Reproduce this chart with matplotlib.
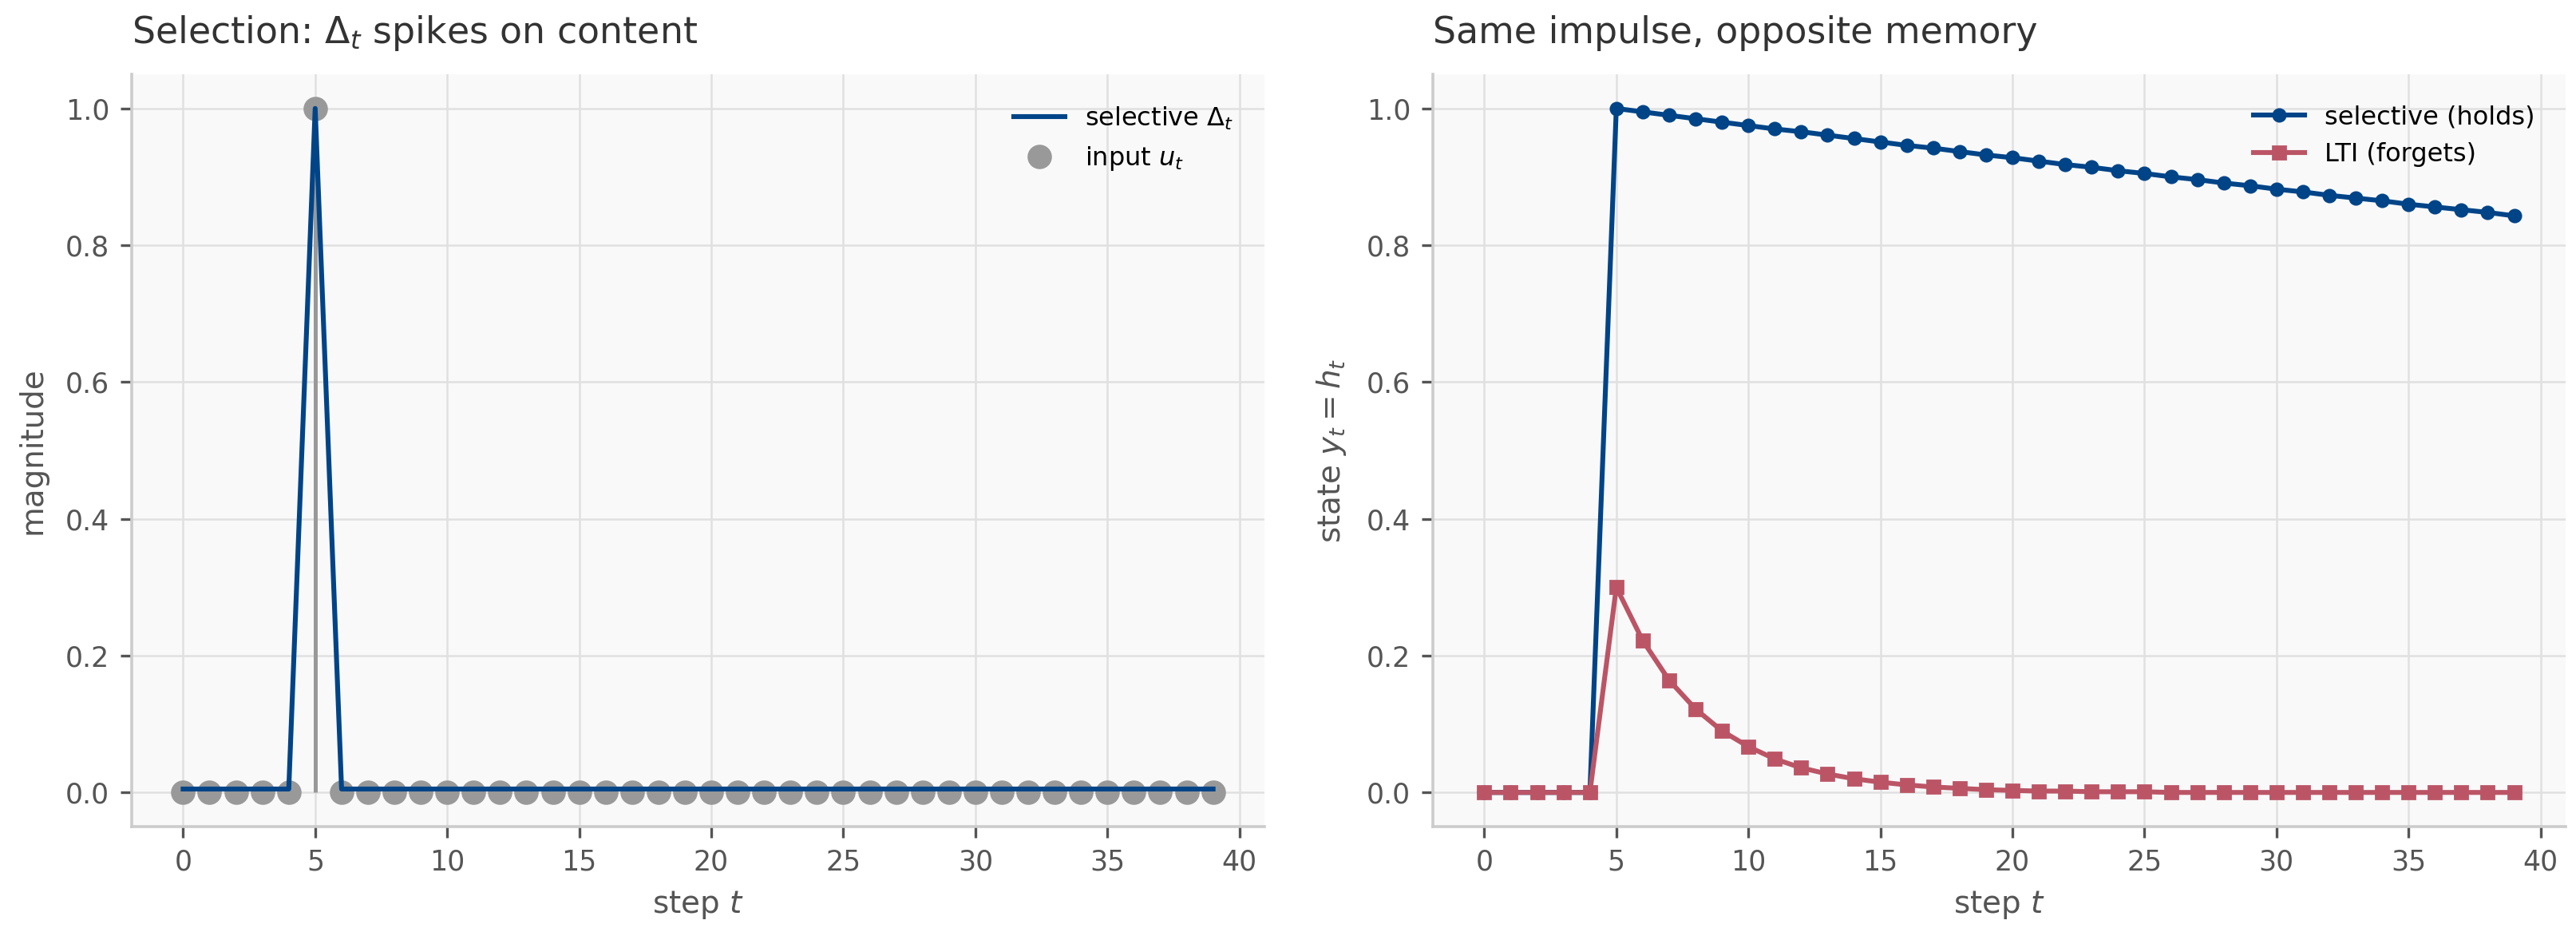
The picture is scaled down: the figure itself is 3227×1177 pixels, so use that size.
import numpy as np
import matplotlib
matplotlib.use("Agg")
import matplotlib.pyplot as plt

# -----------------------------
# DATA
# -----------------------------
steps = list(range(40))

# left panel: input impulse and selective step size
input_u = [0.0] * 5 + [1.0] + [0.0] * 34
selective_delta = [0.005] * 5 + [1.0] + [0.005] * 34

# right panel: hidden state after the impulse
selective_state = [0.0] * 5 + [
    1.000, 0.995, 0.990, 0.985, 0.980, 0.975, 0.970, 0.966, 0.961, 0.956,
    0.951, 0.946, 0.942, 0.937, 0.932, 0.928, 0.923, 0.918, 0.914, 0.909,
    0.905, 0.900, 0.896, 0.891, 0.887, 0.882, 0.878, 0.873, 0.869, 0.865,
    0.860, 0.856, 0.852, 0.848, 0.843,
]
lti_state = [0.0] * 5 + [
    0.300, 0.222, 0.164, 0.122, 0.090, 0.067, 0.049, 0.036, 0.027, 0.020,
    0.015, 0.011, 0.008, 0.006, 0.004, 0.003, 0.002, 0.002, 0.001, 0.001,
    0.001, 0.0, 0.0, 0.0, 0.0, 0.0, 0.0, 0.0, 0.0, 0.0,
    0.0, 0.0, 0.0, 0.0, 0.0,
]

# -----------------------------
# STYLE
# -----------------------------
BLUE = "#004488"
RED = "#BB5566"
GREY = "#999999"
TEXT = "#555555"

plt.rcParams["font.family"] = ["DejaVu Sans"]
plt.rcParams["mathtext.fontset"] = "dejavusans"


def style_axes(ax):
    ax.set_facecolor("#f9f9f9")
    ax.grid(True, color="#e0e0e0", linewidth=0.9)
    ax.set_axisbelow(True)
    for side in ["top", "right"]:
        ax.spines[side].set_visible(False)
    for side in ["left", "bottom"]:
        ax.spines[side].set_color("#cccccc")
        ax.spines[side].set_linewidth(1.3)
    ax.tick_params(colors=TEXT, labelsize=12.5, length=5, width=1.2, pad=5)
    ax.set_xticks(range(0, 41, 5))
    ax.set_yticks([0.0, 0.2, 0.4, 0.6, 0.8, 1.0])
    ax.set_xlabel("step $t$", fontsize=14, color=TEXT, labelpad=6)


fig = plt.figure(figsize=(16.135, 5.885), dpi=200)
ax1 = fig.add_axes([0.0511, 0.1206, 0.4398, 0.8004])
ax2 = fig.add_axes([0.5562, 0.1206, 0.4398, 0.8004])

# -----------------------------
# LEFT: selection
# -----------------------------
style_axes(ax1)
ax1.vlines(steps, 0, input_u, color=GREY, linewidth=1.8, zorder=2)
h_in, = ax1.plot(steps, input_u, "o", color=GREY, markersize=10, zorder=3,
                 label="input $u_t$")
h_sel, = ax1.plot(steps, selective_delta, "-", color=BLUE, linewidth=2.2,
                  zorder=4, label="selective $\\Delta_t$")
ax1.set_ylabel("magnitude", fontsize=14, color=TEXT, labelpad=8)
ax1.set_title("Selection: $\\Delta_t$ spikes on content", loc="left",
              fontsize=16.5, color="#333333", pad=14)
ax1.legend(handles=[h_sel, h_in], loc="upper right", frameon=False,
           fontsize=11.5, borderaxespad=0.8)

# -----------------------------
# RIGHT: memory
# -----------------------------
style_axes(ax2)
ax2.plot(steps, selective_state, "-o", color=BLUE, linewidth=2.2, markersize=5.5,
         label="selective (holds)")
ax2.plot(steps, lti_state, "-s", color=RED, linewidth=2.2, markersize=5.5,
         label="LTI (forgets)")
ax2.set_ylabel("state $y_t = h_t$", fontsize=14, color=TEXT, labelpad=8)
ax2.set_title("Same impulse, opposite memory", loc="left",
              fontsize=16.5, color="#333333", pad=14)
ax2.legend(loc="upper right", frameon=False, fontsize=11.5, borderaxespad=0.8)

fig.savefig("out.png", dpi=200)
